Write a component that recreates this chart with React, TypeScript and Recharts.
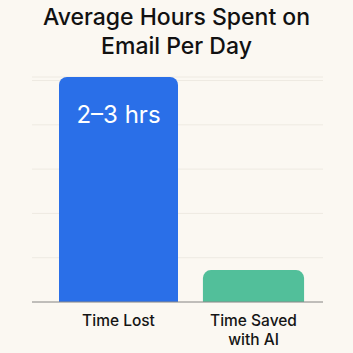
import { Bar, BarChart, CartesianGrid, LabelList, Rectangle, Text, XAxis, YAxis } from 'recharts'

const CATEGORIES = ['Time Lost', 'Time Saved with AI']
const HOURS = [2.54, 0.36]
const BAR_LABELS = ['2–3 hrs', '']
const BAR_COLORS = ['#2A6FE8', '#52BF9A']
const Y_TICKS = [0, 0.5, 1, 1.5, 2, 2.5]

const data = CATEGORIES.map((name, i) => ({ name, hours: HOURS[i], label: BAR_LABELS[i] }))

const FONT = 'Inter, "Noto Sans", sans-serif'

function BarShape(props: any) {
  const { x, y, width, height, index } = props
  // second bar is drawn a bit narrower, like the original
  const w = index === 0 ? width : width * 0.85
  const nx = x + (width - w) / 2
  return <Rectangle x={nx} y={y} width={w} height={height} radius={[8, 8, 0, 0]} fill={BAR_COLORS[index]} />
}

function CategoryTick(props: any) {
  const { x, y, payload } = props
  return (
    <Text
      x={x}
      y={y}
      width={96}
      textAnchor="middle"
      verticalAnchor="start"
      lineHeight={19}
      style={{ fontFamily: FONT, fontSize: 15.5, fontWeight: 500, fill: '#151515' }}
    >
      {payload.value}
    </Text>
  )
}

export default function App() {
  return (
    <div
      style={{
        position: 'fixed',
        top: 0,
        left: 0,
        width: 353,
        height: 353,
        background: '#FBF8F2',
        overflow: 'hidden',
      }}
    >
      <div
        style={{
          position: 'absolute',
          top: 3,
          left: 0,
          width: 353,
          textAlign: 'center',
          fontFamily: FONT,
          fontSize: 23,
          fontWeight: 500,
          lineHeight: '29px',
          color: '#111',
        }}
      >
        Average Hours Spent on
        <br />
        Email Per Day
      </div>
      <div style={{ position: 'absolute', top: 0, left: 0 }}>
        <BarChart width={353} height={353} data={data} margin={{ top: 77, right: 30, bottom: 21, left: 32 }} barCategoryGap={8}>
          <CartesianGrid vertical={false} stroke="#EEEAE2" />
          <YAxis hide domain={[0, 2.54]} ticks={Y_TICKS} />
          <XAxis
            dataKey="name"
            height={30}
            axisLine={{ stroke: '#8A8A8A' }}
            tickLine={false}
            padding={{ left: 19, right: 2 }}
            tick={<CategoryTick />}
            tickMargin={7}
            interval={0}
          />
          <Bar dataKey="hours" isAnimationActive={false} shape={<BarShape />}>
            <LabelList
              dataKey="label"
              position="insideTop"
              offset={29}
              style={{ fontFamily: FONT, fontSize: 24, fontWeight: 400, fill: '#FFFFFF' }}
            />
          </Bar>
        </BarChart>
      </div>
    </div>
  )
}
